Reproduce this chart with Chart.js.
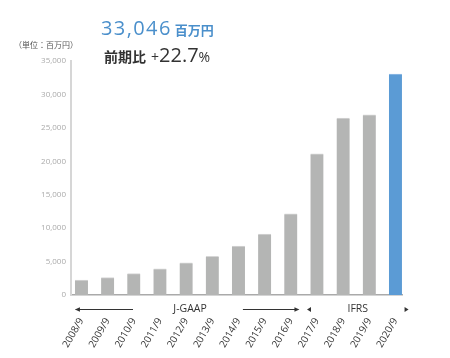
<!DOCTYPE html>
<html><head><meta charset="utf-8">
<script src="https://cdn.jsdelivr.net/npm/chart.js@4"></script>
<style>
html,body{margin:0;padding:0;background:#fff;}
#wrap{position:relative;width:450px;height:358px;font-family:"Open Sans","Noto Sans CJK JP",sans-serif;}
canvas{position:absolute;left:0;top:0;}
.t{position:absolute;white-space:nowrap;line-height:1;}
</style></head>
<body>
<div id="wrap">
<canvas id="c" width="450" height="358"></canvas>
<div class="t" style="left:14px;top:41px;font-size:8px;color:#555;font-family:'Noto Sans CJK JP',sans-serif;">（単位：百万円）</div>
<div class="t" style="left:101px;top:18px;font-size:20px;color:#4a8fcb;"><span style="letter-spacing:1.4px">33,046</span><span style="font-size:13px;font-weight:bold;font-family:'Noto Sans CJK JP',sans-serif;margin-left:3px;">百万円</span></div>
<div class="t" style="left:104px;top:45px;font-size:20px;color:#333;"><span style="font-size:14px;font-weight:bold;font-family:'Noto Sans CJK JP',sans-serif;">前期比</span><span style="font-size:14px;margin-left:5px;">+</span><span>22.7</span><span style="font-size:14px;">%</span></div>
</div>
<script>
const categories = ["2008/9","2009/9","2010/9","2011/9","2012/9","2013/9","2014/9","2015/9","2016/9","2017/9","2018/9","2019/9","2020/9"];
const revenue = [2250, 2600, 3200, 3900, 4800, 5800, 7300, 9100, 12150, 21100, 26450, 26932, 33046];
const yTicks = [0, 5000, 10000, 15000, 20000, 25000, 30000, 35000];
const standards = ["J-GAAP", "IFRS"];

const FONT = '"Open Sans","Noto Sans CJK JP",sans-serif';
const barColors = revenue.map((_, i) => i === revenue.length - 1 ? '#5b9bd5' : '#b4b5b4');
const barBorders = revenue.map((_, i) => i === revenue.length - 1 ? '#93bde6' : '#d6d6d6');

const annot = {
  id: 'annot',
  afterDraw(chart) {
    const ctx = chart.ctx;
    const xs = chart.scales.x;
    const px = v => xs.getPixelForValue(v);
    const y = chart.chartArea.bottom + 14.5;
    ctx.save();
    ctx.strokeStyle = '#333';
    ctx.fillStyle = '#333';
    ctx.lineWidth = 1;
    const line = (a, b) => { ctx.beginPath(); ctx.moveTo(a, y); ctx.lineTo(b, y); ctx.stroke(); };
    const tri = (tip, dir, w, h) => {
      ctx.beginPath(); ctx.moveTo(tip, y); ctx.lineTo(tip - dir * w, y - h / 2); ctx.lineTo(tip - dir * w, y + h / 2); ctx.closePath(); ctx.fill();
    };
    // J-GAAP
    line(px(-0.22), px(1.97));
    tri(px(-0.25), -1, 5, 4.5);
    line(px(6.17), px(8.28));
    tri(px(8.33), 1, 5, 4.5);
    // IFRS
    tri(px(8.62), -1, 4, 5);
    tri(px(12.5), 1, 4, 5);
    ctx.font = '10.5px ' + FONT;
    ctx.textAlign = 'center';
    ctx.textBaseline = 'middle';
    ctx.fillText(standards[0], px(4.15), y);
    ctx.fillText(standards[1], px(10.56), y);
    ctx.restore();
  }
};

new Chart(document.getElementById('c'), {
  type: 'bar',
  data: {
    datasets: [{
      data: revenue.map((v, i) => ({ x: i, y: v })),
      backgroundColor: barColors,
      borderColor: barBorders,
      borderWidth: { top: 1, left: 0, right: 0, bottom: 0 },
      borderSkipped: 'bottom',
      barThickness: 13
    }]
  },
  options: {
    responsive: false,
    animation: false,
    layout: { padding: { top: 61, right: 48, left: 0, bottom: 0 } },
    plugins: { legend: { display: false }, tooltip: { enabled: false } },
    scales: {
      x: {
        type: 'linear',
        offset: false,
        min: -0.4,
        max: 12.25,
        grid: { display: false, drawTicks: false, offset: false },
        border: { display: true, color: '#aaaaaa', width: 1.5 },
        afterBuildTicks: s => { s.ticks = categories.map((_, i) => ({ value: i })); },
        ticks: {
          autoSkip: false, maxRotation: 60, minRotation: 60, padding: 21,
          color: '#333', font: { size: 10, family: FONT },
          callback: (v, i) => categories[i]
        },
        afterFit: s => { s.height = 63; }
      },
      y: {
        min: 0, max: 35000,
        afterBuildTicks: s => { s.ticks = yTicks.map(v => ({ value: v })); },
        ticks: {
          color: '#aaaaaa', font: { size: 8, family: FONT }, padding: 5,
          callback: v => v.toLocaleString('en-US')
        },
        grid: { display: false, drawTicks: false },
        border: { display: true, color: '#d6d6d6', width: 2 },
        afterFit: s => { s.width = 71; }
      }
    }
  },
  plugins: [annot]
});
</script>
</body></html>
